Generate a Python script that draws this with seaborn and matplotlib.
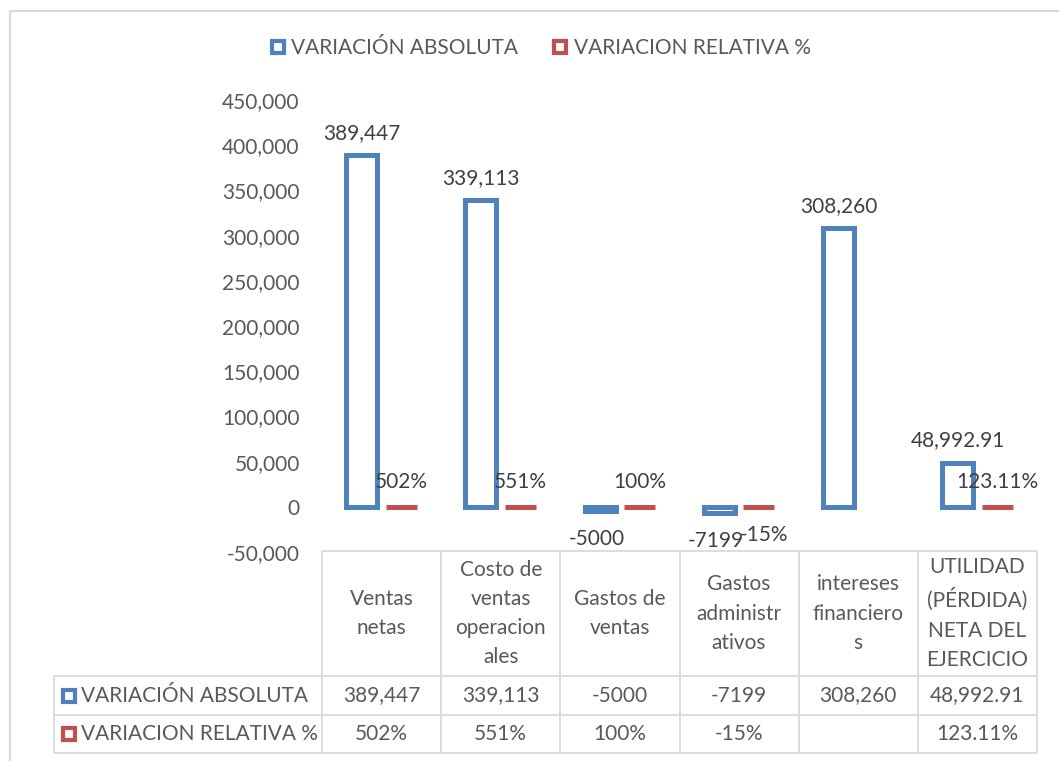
import numpy as np
import pandas as pd
import matplotlib
matplotlib.use("Agg")
import matplotlib.pyplot as plt
import matplotlib.transforms as mtransforms
from matplotlib.lines import Line2D
import seaborn as sns

# ---------------- data ----------------
categories = [
    "Ventas\nnetas",
    "Costo de\nventas\noperacion\nales",
    "Gastos de\nventas",
    "Gastos\nadministr\nativos",
    "intereses\nfinanciero\ns",
    "UTILIDAD\n(PÉRDIDA)\nNETA DEL\nEJERCICIO",
]
series = ["VARIACIÓN ABSOLUTA", "VARIACION RELATIVA %"]
abs_values = [389447, 339113, -5000, -7199, 308260, 48992.91]
rel_values = [5.02, 5.51, 1.00, -0.15, np.nan, 1.2311]
abs_labels = ["389,447", "339,113", "-5000", "-7199", "308,260", "48,992.91"]
rel_labels = ["502%", "551%", "100%", "-15%", "", "123.11%"]
y_ticks = [-50000, 0, 50000, 100000, 150000, 200000, 250000, 300000, 350000, 400000, 450000]

BLUE = "#4F81BD"
RED = "#C0504D"
TXT = "#595959"
LBL = "#404040"
GRID = "#D9D9D9"

df = pd.DataFrame({
    "cat": categories * 2,
    "serie": [series[0]] * 6 + [series[1]] * 6,
    "val": abs_values + rel_values,
})

sns.set_theme(style="white")
plt.rcParams["font.family"] = ["Lato", "DejaVu Sans"]

W, H = 1059, 761
fig = plt.figure(figsize=(W / 100, H / 100), dpi=100)
fig.patch.set_facecolor("white")

def fx(px):
    return px / W

def fy(py):
    return 1 - py / H

ax_top, ax_bot = 100, 552
ax = fig.add_axes([fx(322), fy(ax_bot), fx(1037) - fx(322), fy(ax_top) - fy(ax_bot)])

sns.barplot(data=df, x="cat", y="val", hue="serie", order=categories, hue_order=series,
            palette=[BLUE, RED], width=0.667, gap=0.22, fill=False, linewidth=3.6,
            errorbar=None, legend=False, ax=ax)
for p in ax.patches:
    p.set_joinstyle("miter")
    p.set_facecolor("white")

ax.set_xlim(-0.5, 5.5)
ax.set_ylim(-50000, 450000)
ax.set_yticks(y_ticks)
ax.set_yticklabels([f"{v:,}" for v in y_ticks])
ax.tick_params(axis="y", length=0, pad=16, labelsize=15, labelcolor=TXT)
ax.set_xticks([])
ax.set_xlabel("")
ax.set_ylabel("")
for s in ax.spines.values():
    s.set_visible(False)
ax.patch.set_alpha(0)

# data labels
for ci, (cont, labels) in enumerate(zip(ax.containers, [abs_labels, rel_labels])):
    for p in cont:
        h = p.get_height()
        if np.isnan(h):
            continue
        xc = p.get_x() + p.get_width() / 2
        idx = int(round(xc))
        lab = labels[idx]
        if lab == "":
            continue
        top = max(p.get_y(), p.get_y() + h)
        bot = min(p.get_y(), p.get_y() + h)
        if h >= 0:
            off = 22 if ci == 0 else 25
            ax.annotate(lab, (xc, top), xytext=(0, off), textcoords="offset pixels",
                        ha="center", va="center", fontsize=15, color=LBL,
                        annotation_clip=False)
        else:
            dx = -3 if ci == 0 else 5
            ax.annotate(lab, (xc, bot), xytext=(dx, -28), textcoords="offset pixels",
                        ha="center", va="center", fontsize=15, color=LBL,
                        annotation_clip=False)

# ---------------- data table ----------------
bt = mtransforms.blended_transform_factory(ax.transData, fig.transFigure)
ft = fig.transFigure
y_head_top, y_head_bot, y_r1_bot, y_r2_bot = 551, 676, 715, 753
x_lab_left = 54
lw_t = 1.3

def hline(x0px, x1px, ypx):
    fig.add_artist(Line2D([fx(x0px), fx(x1px)], [fy(ypx), fy(ypx)], transform=ft,
                          color=GRID, lw=lw_t, solid_capstyle="butt"))

def vline_data(xd, y0px, y1px):
    fig.add_artist(Line2D([xd, xd], [fy(y0px), fy(y1px)], transform=bt,
                          color=GRID, lw=lw_t, solid_capstyle="butt"))

def vline_px(xp, y0px, y1px):
    fig.add_artist(Line2D([fx(xp), fx(xp)], [fy(y0px), fy(y1px)], transform=ft,
                          color=GRID, lw=lw_t, solid_capstyle="butt"))

hline(322, 1037, y_head_top)
hline(x_lab_left, 1037, y_head_bot)
hline(x_lab_left, 1037, y_r1_bot)
hline(x_lab_left, 1037, y_r2_bot)
for i in range(len(categories) + 1):
    vline_data(i - 0.5, y_head_top, y_r2_bot)
vline_px(x_lab_left, y_head_bot, y_r2_bot)

for i, c in enumerate(categories):
    fig.text(i, fy((y_head_top + y_head_bot) / 2), c, transform=bt, ha="center", va="center",
             fontsize=15, color=TXT, linespacing=1.58)
    fig.text(i, fy((y_head_bot + y_r1_bot) / 2), abs_labels[i], transform=bt,
             ha="center", va="center", fontsize=15, color=TXT)
    fig.text(i, fy((y_r1_bot + y_r2_bot) / 2), rel_labels[i], transform=bt,
             ha="center", va="center", fontsize=15, color=TXT)

for name, col, (ya, yb) in zip(series, [BLUE, RED], [(y_head_bot, y_r1_bot), (y_r1_bot, y_r2_bot)]):
    yc = fy((ya + yb) / 2)
    fig.add_artist(Line2D([fx(69)], [yc], transform=ft, marker="s", ls="none", ms=8,
                          mfc="white", mec=col, mew=3))
    fig.text(fx(81), yc, name, ha="left", va="center", fontsize=15, color=TXT)

# ---------------- legend ----------------
handles = [Line2D([], [], marker="s", ls="none", ms=8, mfc="white", mec=c, mew=3)
           for c in [BLUE, RED]]
leg = fig.legend(handles, series, loc="center", bbox_to_anchor=(fx(540), fy(48)), ncol=2,
                 frameon=False, fontsize=15, labelcolor=TXT, handlelength=0.8,
                 handletextpad=0.25, columnspacing=1.6, borderpad=0)

# chart border (left and top)
fig.add_artist(Line2D([fx(9.5), fx(9.5)], [fy(10.5), 0], transform=ft, color=GRID, lw=1.5))
fig.add_artist(Line2D([fx(9.5), 1], [fy(10.5), fy(10.5)], transform=ft, color=GRID, lw=1.5))

fig.savefig("out.png", dpi=100)
